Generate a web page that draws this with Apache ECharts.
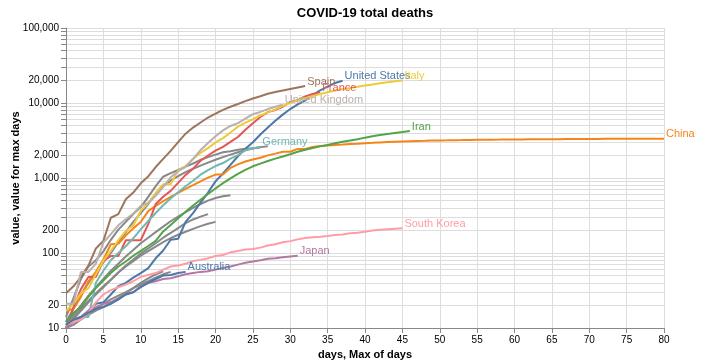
<!DOCTYPE html>
<html><head><meta charset="utf-8">
<script src="https://cdn.jsdelivr.net/npm/echarts@6/dist/echarts.min.js"></script>
<style>html,body{margin:0;padding:0;background:#fff}#c{width:701px;height:364px}</style>
</head><body><div id="c"></div>
<script>
// ---- data: value for each day since the 10th death ----
const china = [17,18,26,42,56,82,131,133,171,213,259,361,425,490,562,632,717,804,904,1011,1111,1116,1368,1520,1662,1765,1863,2002,2114,2236,2236,2441,2443,2593,2663,2715,2744,2788,2835,2870,2912,2945,2981,3013,3042,3070,3097,3119,3136,3158,3169,3176,3189,3199,3213,3226,3237,3245,3249,3255,3261,3270,3277,3281,3287,3292,3295,3300,3304,3312,3318,3322,3326,3330,3333,3335,3335,3337,3339,3340,3343];
const iran = [12,16,19,26,34,43,54,66,77,92,107,124,145,194,237,291,354,429,514,611,724,853,988,1135,1284,1433,1556,1685,1812,1934,2077,2234,2378,2517,2640,2757,2898,3036,3160,3294,3452,3603,3739,3872,3993,4110,4232];
const italy = [17,21,29,34,52,79,107,148,197,233,366,463,631,827,827,1266,1441,1809,2158,2503,2978,3405,4032,4825,5476,6077,6820,7503,8215,9134,10023,10779,11591,12428,13155,13915,14681,15362,15887,16523,17127,17669,18279,18849,19468,19899];
const unitedStates = [11,12,14,17,21,22,28,36,40,47,54,63,85,108,150,155,260,340,470,640,900,1150,1500,1950,2450,3000,3800,4700,5800,7000,8300,9600,10800,12700,14700,16500,18500,19800];
const spain = [29,36,48,68,115,145,295,330,520,640,850,1050,1400,1800,2300,3000,3900,4700,5500,6400,7200,8100,8900,9700,10600,11500,12300,13300,14000,14700,15400,16100,16800];
const france = [10,19,33,48,48,79,91,91,148,148,148,243,450,562,674,860,1100,1331,1696,1995,2314,2606,3024,3523,4403,5387,6507,7560,8078,8911,10328,10869,12210,13197,13832];
const unitedKingdom = [21,21,56,56,72,138,178,234,282,336,423,466,580,761,1021,1231,1411,1793,2357,2926,3611,4320,4943,5385,6171,7111,7600,8300,8900,9500];
const germany = [11,13,14,14,40,58,80,100,123,157,206,267,342,433,533,645,775,920,1107,1275,1444,1584,1810,2016,2349,2500,2600];
const southKorea = [11,12,13,16,22,28,32,35,38,42,48,51,54,60,66,68,72,78,81,85,91,94,102,106,111,113,118,126,131,139,144,152,158,162,165,169,174,177,183,186,192,200,204,208,211,214];
const japan = [10,12,14,17,19,21,22,24,28,30,36,40,42,45,46,49,52,54,56,57,60,63,66,70,74,77,80,84,85,88,90,92];
const australia = [11,13,14,16,18,19,21,24,28,30,35,40,45,50,51,54,56];
// unlabeled countries
const other1 = [14,25,45,66,80,105,150,205,260,330,410,560,780,1040,1160,1280,1420,1560,1750,1900,2050,2200,2280,2380,2450,2500,2550];
const other2 = [12,18,28,40,55,75,100,140,190,260,340,450,620,780,920,1060,1200,1330,1460,1600,1750,1900,2050,2200,2350,2480,2580,2650];
const other3 = [12,15,20,27,35,45,58,72,90,110,135,160,190,225,265,305,350,400,450,500,540,570,590];
const other4 = [10,13,17,22,28,35,44,55,68,82,98,115,135,160,185,215,250,280,305,330];
const other5 = [11,14,18,23,29,36,44,55,66,78,92,106,122,140,158,175,192,210,228,245,260];
const other6 = [10,12,14,16,18,21,24,27,30,34,38,42,47,52,56];
const other7 = [10,11,13,15,17,19,22,25,29,34,40,46,52,57];

const gridValues = [10,20,30,40,50,60,70,80,90,100,200,300,400,500,600,700,800,900,1000,2000,3000,4000,5000,6000,7000,8000,9000,10000,20000,30000,40000,50000,60000,70000,80000,90000,100000];
const labelValues = [10,20,100,200,1000,2000,10000,20000,100000];
const dayTicks = {min: 0, max: 80, step: 5};

const labeled = [
  {name: 'United States', color: '#4c78a8', data: unitedStates},
  {name: 'China', color: '#f58518', data: china},
  {name: 'France', color: '#e45756', data: france},
  {name: 'Germany', color: '#72b7b2', data: germany},
  {name: 'Iran', color: '#54a24b', data: iran},
  {name: 'Italy', color: '#eeca3b', data: italy},
  {name: 'Japan', color: '#b279a2', data: japan},
  {name: 'South Korea', color: '#ff9da6', data: southKorea},
  {name: 'Spain', color: '#9d755d', data: spain},
  {name: 'United Kingdom', color: '#bab0ac', data: unitedKingdom},
  {name: 'Australia', color: '#4c78a8', data: australia}
];
const others = [other1, other2, other3, other4, other5, other6, other7];

const FONT = '"Liberation Sans", Arial, sans-serif';
const toPairs = arr => arr.map((v, i) => [i, v]);

const series = [];
others.forEach((arr, k) => series.push({
  name: 'other' + k, type: 'line', xAxisIndex: 0, yAxisIndex: 0,
  data: toPairs(arr), showSymbol: false, symbol: 'none', silent: true,
  lineStyle: {color: '#888', width: 2}, z: 2
}));
labeled.forEach(s => series.push({
  name: s.name, type: 'line', xAxisIndex: 0, yAxisIndex: 0,
  data: toPairs(s.data), showSymbol: false, symbol: 'none', silent: true,
  lineStyle: {color: s.color, width: 2}, itemStyle: {color: s.color}, z: 3,
  endLabel: {show: true, formatter: s.name, color: s.color, fontSize: 11,
             fontFamily: FONT, distance: 2, offset: [0, -4.5]}
}));

const chart = echarts.init(document.getElementById('c'), null, {renderer: 'canvas'});
chart.setOption({
  animation: false,
  backgroundColor: '#fff',
  title: {text: 'COVID-19 total deaths', left: 360, top: 2, textAlign: 'center',
          textStyle: {fontSize: 13, fontWeight: 'bold', color: '#000', fontFamily: FONT}},
  grid: {left: 66, right: 37, top: 28, bottom: 36, containLabel: false, outerBoundsMode: 'none'},
  xAxis: {
    type: 'value', min: dayTicks.min, max: dayTicks.max, interval: dayTicks.step,
    name: 'days, Max of days', nameLocation: 'middle', nameGap: 21, nameMoveOverlap: false,
    nameTextStyle: {fontSize: 11, fontWeight: 'bold', color: '#000', fontFamily: FONT},
    axisLine: {show: true, lineStyle: {color: '#888', width: 1}},
    axisTick: {show: true, length: 5, lineStyle: {color: '#888'}},
    axisLabel: {fontSize: 10, color: '#000', margin: 7, fontFamily: FONT},
    splitLine: {show: true, lineStyle: {color: '#ddd', width: 1}}
  },
  yAxis: [
    {type: 'log', logBase: 10, min: 10, max: 100000, show: false,
     splitLine: {show: false}},
    {type: 'value', min: 1, max: 5, position: 'left',
     name: 'value, value for max days', nameLocation: 'middle', nameGap: 45, nameMoveOverlap: false,
     nameTextStyle: {fontSize: 11, fontWeight: 'bold', color: '#000', fontFamily: FONT},
     axisLine: {show: true, lineStyle: {color: '#888', width: 1}},
     axisTick: {show: true, length: 5, lineStyle: {color: '#888'},
                customValues: gridValues.map(v => Math.log10(v))},
     axisLabel: {fontSize: 10, color: '#000', margin: 7, fontFamily: FONT,
                 customValues: labelValues.map(v => Math.log10(v)),
                 formatter: v => Math.round(Math.pow(10, v)).toLocaleString('en-US')},
     splitLine: {show: true, lineStyle: {color: '#ddd', width: 1}}}
  ],
  series: series
});
</script>
</body></html>
